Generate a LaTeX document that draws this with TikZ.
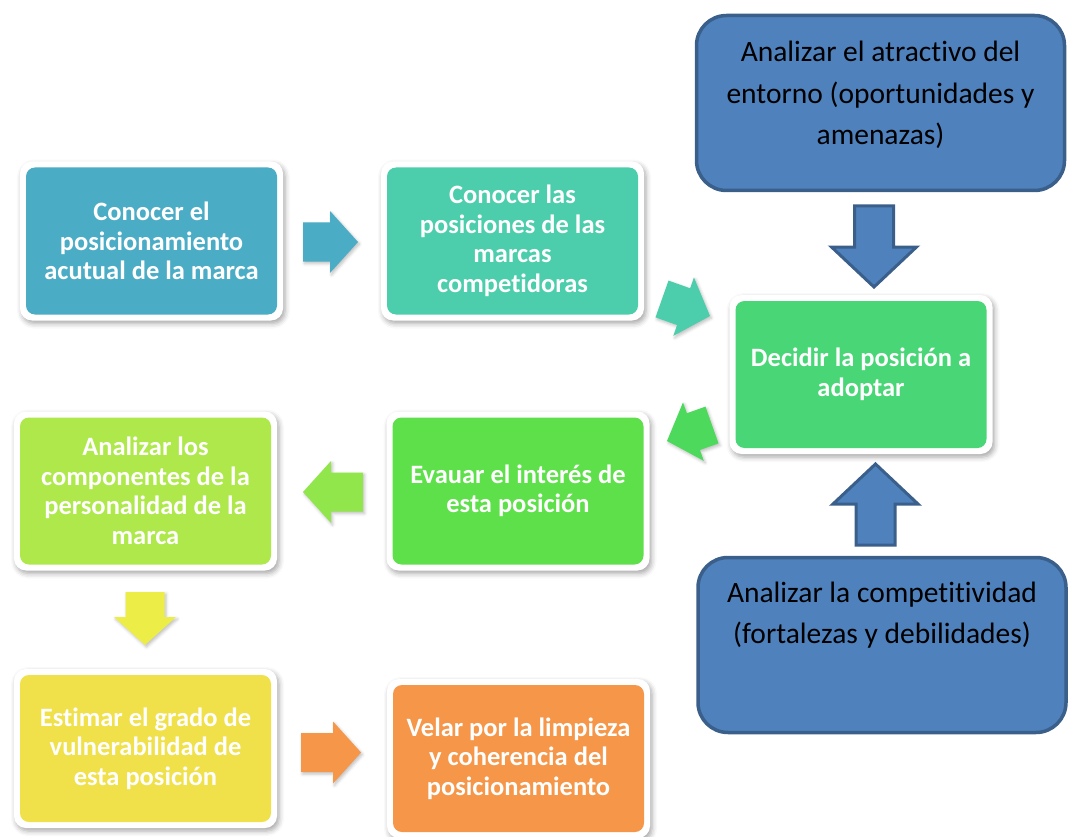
\documentclass[tikz,border=0pt]{standalone}
\usepackage{fontspec}
\setmainfont{Carlito}[Ligatures=NoCommon]
\usetikzlibrary{calc,shadows.blur}

\definecolor{cAqua}{HTML}{4BACC6}
\definecolor{cTurquesa}{HTML}{4CCEAC}
\definecolor{cVerde}{HTML}{48D676}
\definecolor{cVerdeB}{HTML}{5EE04A}
\definecolor{cLima}{HTML}{AEE84B}
\definecolor{cAmarillo}{HTML}{F0E04A}
\definecolor{cNaranja}{HTML}{F59648}
\definecolor{fVerde}{HTML}{4DD95C}
\definecolor{fLima}{HTML}{90E64B}
\definecolor{fAmarillo}{HTML}{EDED47}
\definecolor{azul}{HTML}{4F81BD}
\definecolor{azulBorde}{HTML}{3A5F8B}

% flecha de bloque: estilo, inicio, punta, medio cuerpo, media cabeza, largo cabeza
\newcommand{\flechabloque}[6]{%
  \path ($(#3)!#6!(#2)$) coordinate (fb);
  \path[#1] ($(#2)!#4!90:(#3)$) -- ($(fb)!#4!90:(#3)$) -- ($(fb)!#5!90:(#3)$) -- (#3)
    -- ($(fb)!#5!-90:(#3)$) -- ($(fb)!#4!-90:(#3)$) -- ($(#2)!#4!-90:(#3)$) -- cycle;}

\tikzset{
  paso/.style={rounded corners=12pt, fill=white, minimum width=263pt, minimum height=159pt,
    inner sep=0pt, align=center, text=white, font=\bfseries\fontsize{26.5}{29.5}\selectfont,
    blur shadow={shadow xshift=2pt, shadow yshift=-3pt, shadow blur radius=5pt, shadow opacity=35},
    path picture={\fill[#1, rounded corners=9pt]
      ($(path picture bounding box.south west)+(6pt,6pt)$) rectangle
      ($(path picture bounding box.north east)+(-6pt,-6pt)$);}},
  caja/.style={draw=azulBorde, fill=azul, line width=3.5pt, rounded corners=30pt,
    minimum width=368pt, minimum height=175pt},
  textocaja/.style={align=center, font=\fontsize{29.5}{41.5}\selectfont},
  sombrita/.style={blur shadow={shadow xshift=1.5pt, shadow yshift=-2pt, shadow blur radius=3pt, shadow opacity=25}}
}

\begin{document}
\begin{tikzpicture}[x=1pt,y=-1pt]
  \useasboundingbox (0,0) rectangle (1068,837);

  % pasos (cajas de color)
  \node[paso=cAqua] (conocer) at (151.5,241) {Conocer el\\posicionamiento\\acutual de la marca};
  \node[paso=cTurquesa] (marcas) at (512.5,241) {Conocer las\\posiciones de las\\marcas\\competidoras};
  \node[paso=cVerde] (decidir) at (861,374.5) {Decidir la posición a\\adoptar};
  \node[paso=cVerdeB] (evaluar) at (518,491) {Evauar el interés de\\esta posición};
  \node[paso=cLima] (personalidad) at (145.5,491) {Analizar los\\componentes de la\\personalidad de la\\marca};
  \node[paso=cAmarillo] (estimar) at (145.5,748.5) {Estimar el grado de\\vulnerabilidad de\\esta posición};
  \node[paso=cNaranja] (velar) at (518.5,758.5) {Velar por la limpieza\\y coherencia del\\posicionamiento};

  % cajas azules
  \node[caja] (entorno) at (880.5,103) {};
  \node[textocaja] (tEntorno) at ($(entorno.center)+(0,-8)$) {Analizar el atractivo del\\entorno (oportunidades y\\amenazas)};
  \node[caja] (compet) at (882,645) {};
  \node[textocaja] (tCompet) at ($(compet.center)+(0,-30)$) {Analizar la competitividad\\(fortalezas y debilidades)};

  % extremos de las flechas
  \coordinate (f1i) at (303,242);   \coordinate (f1f) at (358,242);
  \coordinate (f2i) at (662,299);   \coordinate (f2f) at (710,316);
  \coordinate (f3i) at (712,425);   \coordinate (f3f) at (667,441);
  \coordinate (f4i) at (363,492);   \coordinate (f4f) at (303,492);
  \coordinate (f5i) at (145,592);   \coordinate (f5f) at (145,645);
  \coordinate (f6i) at (301,752.5); \coordinate (f6f) at (361,752.5);
  \coordinate (b1i) at (874,206);   \coordinate (b1f) at (874,287);
  \coordinate (b2i) at (875.5,545); \coordinate (b2f) at (875.5,464);

  % flechas de color
  \foreach \i/\col in {1/cAqua, 2/cTurquesa, 3/fVerde, 4/fLima, 5/fAmarillo, 6/cNaranja} {
    \flechabloque{fill=\col, sombrita}{f\i i}{f\i f}{19.5pt}{31pt}{28pt}
  }
  % flechas azules
  \foreach \i in {1,2} {
    \flechabloque{fill=azul, draw=azulBorde, line width=3pt}{b\i i}{b\i f}{19.5pt}{42.5pt}{40pt}
  }
\end{tikzpicture}
\end{document}
